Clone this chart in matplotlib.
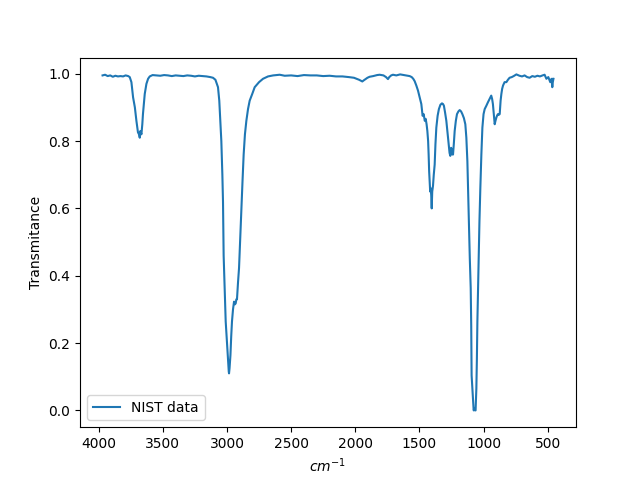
import matplotlib
matplotlib.use("Agg")
import matplotlib.pyplot as plt

# wavenumber (cm^-1) and transmittance
wavenumber = [
    3970, 3950, 3930, 3910, 3890, 3870, 3850, 3830, 3810, 3790, 3770, 3758,
    3745, 3732, 3718, 3706, 3694, 3686, 3680, 3675, 3667, 3660, 3655, 3648,
    3641, 3628, 3615, 3602, 3580, 3550, 3520, 3490, 3460, 3430, 3400, 3370,
    3340, 3310, 3280, 3250, 3220, 3190, 3160, 3130, 3109, 3090, 3070, 3060,
    3052, 3044, 3036, 3031, 3026, 3018, 3010, 3000, 2992, 2986, 2984, 2980,
    2973, 2967, 2961, 2953, 2945, 2938, 2932, 2927, 2922, 2914, 2906, 2897,
    2888, 2879, 2870, 2860, 2849, 2836, 2823, 2803, 2784, 2750, 2719, 2680,
    2640, 2589, 2550, 2500, 2450, 2400, 2350, 2300, 2250, 2200, 2150, 2100,
    2050, 2010, 1990, 1970, 1955, 1945, 1935, 1920, 1905, 1888, 1860, 1830,
    1810, 1780, 1760, 1745, 1735, 1720, 1706, 1680, 1650, 1620, 1600, 1576,
    1560, 1548, 1537, 1524, 1511, 1498, 1485, 1475, 1467, 1458, 1451, 1444,
    1438, 1432, 1428, 1424, 1420, 1416, 1412, 1408, 1404, 1400, 1394, 1388,
    1381, 1375, 1368, 1358, 1348, 1336, 1324, 1316, 1309, 1300, 1290, 1281,
    1272, 1265, 1259, 1253, 1246, 1242, 1238, 1232, 1225, 1216, 1207, 1196,
    1186, 1175, 1165, 1153, 1142, 1134, 1126, 1120, 1114, 1107, 1100, 1096,
    1093, 1088, 1083, 1080, 1077, 1070, 1066, 1062, 1059, 1056, 1052, 1048,
    1043, 1038, 1032, 1025, 1017, 1009, 1000, 991, 978, 966, 953, 940,
    933, 927, 920, 913, 907, 900, 894, 888, 881, 874, 867, 861,
    855, 848, 836, 822, 810, 797, 780, 765, 744, 720, 700, 680,
    660, 641, 620, 600, 580, 560, 540, 524, 510, 495, 480, 470,
    464, 460, 455,
]
transmittance = [
    0.995, 0.997, 0.993, 0.995, 0.991, 0.994, 0.992, 0.993, 0.992, 0.995, 0.993, 0.990,
    0.975, 0.930, 0.900, 0.860, 0.826, 0.820, 0.810, 0.830, 0.820, 0.850, 0.880, 0.910,
    0.940, 0.970, 0.985, 0.992, 0.996, 0.995, 0.994, 0.996, 0.995, 0.993, 0.995, 0.994,
    0.993, 0.995, 0.994, 0.992, 0.994, 0.993, 0.992, 0.990, 0.988, 0.982, 0.960, 0.920,
    0.860, 0.800, 0.700, 0.620, 0.460, 0.360, 0.264, 0.200, 0.144, 0.115, 0.110, 0.125,
    0.164, 0.220, 0.264, 0.300, 0.323, 0.315, 0.318, 0.330, 0.330, 0.380, 0.423, 0.510,
    0.590, 0.680, 0.760, 0.820, 0.860, 0.895, 0.920, 0.940, 0.960, 0.975, 0.985, 0.992,
    0.995, 0.997, 0.994, 0.995, 0.993, 0.996, 0.995, 0.995, 0.993, 0.994, 0.992, 0.992,
    0.990, 0.988, 0.985, 0.982, 0.979, 0.977, 0.980, 0.984, 0.988, 0.991, 0.993, 0.996,
    0.997, 0.995, 0.990, 0.984, 0.990, 0.995, 0.997, 0.995, 0.998, 0.996, 0.995, 0.993,
    0.990, 0.985, 0.978, 0.965, 0.950, 0.930, 0.910, 0.875, 0.880, 0.860, 0.866, 0.850,
    0.830, 0.800, 0.760, 0.710, 0.680, 0.650, 0.660, 0.640, 0.600, 0.650, 0.667, 0.700,
    0.730, 0.790, 0.840, 0.875, 0.895, 0.908, 0.912, 0.910, 0.905, 0.885, 0.860, 0.825,
    0.790, 0.765, 0.756, 0.780, 0.770, 0.760, 0.760, 0.790, 0.830, 0.860, 0.880, 0.888,
    0.892, 0.888, 0.880, 0.868, 0.850, 0.810, 0.740, 0.650, 0.560, 0.450, 0.363, 0.250,
    0.104, 0.070, 0.035, 0.015, 0.000, 0.005, 0.000, 0.000, 0.030, 0.065, 0.150, 0.264,
    0.360, 0.463, 0.560, 0.660, 0.760, 0.840, 0.880, 0.895, 0.905, 0.915, 0.925, 0.935,
    0.925, 0.910, 0.880, 0.850, 0.860, 0.870, 0.876, 0.880, 0.878, 0.880, 0.920, 0.940,
    0.955, 0.965, 0.975, 0.975, 0.982, 0.988, 0.990, 0.993, 0.998, 0.994, 0.992, 0.995,
    0.990, 0.988, 0.993, 0.991, 0.994, 0.992, 0.995, 0.997, 0.985, 0.990, 0.975, 0.985,
    0.960, 0.975, 0.985,
]

fig, ax = plt.subplots(figsize=(6.4, 4.8), dpi=100)
ax.plot(wavenumber, transmittance, label="NIST data")
ax.invert_xaxis()
ax.set_xlabel("$cm^{-1}$")
ax.set_ylabel("Transmitance")
ax.legend(loc="lower left")
fig.savefig("out.png")
